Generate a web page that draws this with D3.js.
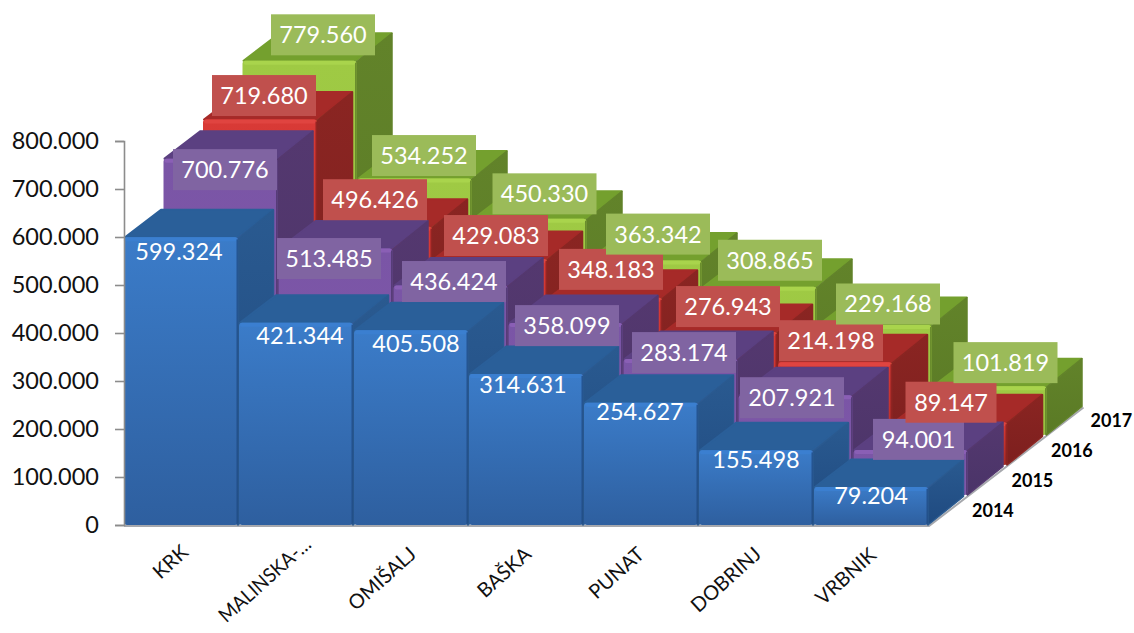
<!DOCTYPE html>
<html><head><meta charset="utf-8">
<script src="https://cdn.jsdelivr.net/npm/d3@7"></script>
<style>html,body{margin:0;background:#fff}svg{display:block}text{font-family:Lato,"Open Sans",sans-serif}</style>
</head><body><div id="c"></div>
<script>
const categories=["KRK","MALINSKA-…","OMIŠALJ","BAŠKA","PUNAT","DOBRINJ","VRBNIK"];
const years=["2014","2015","2016","2017"];
const values2014=[599324,421344,405508,314631,254627,155498,79204];
const values2015=[700776,513485,436424,358099,283174,207921,94001];
const values2016=[719680,496426,429083,348183,276943,214198,89147];
const values2017=[779560,534252,450330,363342,308865,229168,101819];
const yTicks=[0,100000,200000,300000,400000,500000,600000,700000,800000];
const allValues=[values2014,values2015,values2016,values2017];
// label offsets from each bar's front-top-centre
const labelDX=[[-2,4,5,-3,-1,0,0],[4.5,-6.5,3.5,1.5,3.5,-3.5,8],[4,0,6,6,8,-4,1],[23.5,9.5,15,13.5,10.5,13.5,16]];
const labelDY=[[14,13,13,11,9,9,9],[11,10,-4,2.5,-6.5,2.5,-10.5],[-24,-27,-23.5,-28.5,-25.5,-21.5,-20],[-26,-23,-25,-26.5,-26.5,-21,-23.5]];
const catNudgeX=[2,10,0,0,-2,0,0];
const catNudgeY=[-2,-10,0,0,0,0,1];
const themes=[
 {f0:"#3b7cc9",f1:"#2e5f9f",top:"#2a5f99",s0:"#2a5a90",s1:"#1f4a80",hi:"#3b7fd0",lab:null},
 {f0:"#7a55a6",f1:"#8158aa",top:"#5b4081",s0:"#54386f",s1:"#4a3468",hi:"#8a5fb5",lab:"#8064a2"},
 {f0:"#d93a36",f1:"#a82b27",top:"#a62a28",s0:"#8a2522",s1:"#7d1f1e",hi:"#e04440",lab:"#c0504d"},
 {f0:"#9fca44",f1:"#97c040",top:"#74a02e",s0:"#62832a",s1:"#5a7a25",hi:"#a9d44c",lab:"#9bbb59"}];
const W=1134,H=633;
const svg=d3.select("#c").append("svg").attr("width",W).attr("height",H);
const x=d3.scaleBand().domain(categories).range([124,929]);
const y=d3.scaleLinear().domain([0,800000]).range([525,141]);
const depthX=d3.scaleLinear().domain([0,1]).range([0,39.5]);
const depthY=d3.scaleLinear().domain([0,1]).range([0,-30]);
const barDX=36,barDY=-28.5,barW=x.bandwidth()-1;
const defs=svg.append("defs");
themes.forEach((t,i)=>{
 const g=defs.append("linearGradient").attr("id","f"+i).attr("x1",0).attr("y1",0).attr("x2",0).attr("y2",1);
 g.append("stop").attr("offset",0).attr("stop-color",t.f0);
 g.append("stop").attr("offset",1).attr("stop-color",t.f1);
 const s=defs.append("linearGradient").attr("id","s"+i).attr("x1",0).attr("y1",0).attr("x2",0).attr("y2",1);
 s.append("stop").attr("offset",0).attr("stop-color",t.s0);
 s.append("stop").attr("offset",1).attr("stop-color",t.s1);
});
// floor edge
const fl=svg.append("g");
fl.append("path").attr("fill","none").attr("stroke","#a6a8ad").attr("stroke-width",2)
 .attr("d",d3.line()([[x.range()[0],y(0)+1],[x.range()[1],y(0)+1],[x.range()[1]+depthX(3)+barDX,y(0)+depthY(3)+barDY+1]]));
const line=d3.line();
for(let s=3;s>=0;s--){
 const t=themes[s],g=svg.append("g").attr("class","series-"+years[s]);
 const ox=depthX(s),oy=depthY(s);
 const bars=g.selectAll("g").data(allValues[s].map((v,i)=>({v,c:categories[i]}))).join("g");
 bars.each(function(d){
  const b=d3.select(this),L=x(d.c)+ox,R=L+barW,T=y(d.v)+oy,B=y(0)+oy;
  b.append("path").attr("fill",t.top).attr("stroke",t.top).attr("stroke-width",2).attr("stroke-linejoin","round")
   .attr("d",line([[L+1,T],[L+barDX+1,T+barDY+1],[R+barDX-1,T+barDY+1],[R-1,T]])+"Z");
  b.append("path").attr("fill",`url(#s${s})`).attr("stroke",t.s0).attr("stroke-width",1.5).attr("stroke-linejoin","round")
   .attr("d",line([[R,T+1],[R+barDX-.5,T+barDY+1],[R+barDX-.5,B+barDY],[R,B]])+"Z");
  b.append("rect").attr("x",L).attr("y",T).attr("width",barW).attr("height",B-T).attr("rx",3).attr("fill",`url(#f${s})`);
  b.append("rect").attr("x",L+1).attr("y",T).attr("width",barW-2).attr("height",4).attr("rx",2).attr("fill",t.hi);
  b.append("rect").attr("x",R-1.5).attr("y",T+2).attr("width",1.5).attr("height",B-T-2).attr("fill",t.s1).attr("opacity",.75);
 });
}
// y axis
const ax=svg.append("g").attr("transform","translate(124,0)").call(
 d3.axisLeft(y).tickValues(yTicks).tickSize(9).tickPadding(16)
 .tickFormat(v=>v===0?"0":d3.format(",")(v).replace(/,/g,".")));
ax.selectAll("path,line").attr("stroke","#8c8c8c").attr("stroke-width",1.6);
ax.selectAll("text").attr("font-size",23.5).attr("fill","#111").attr("font-family","Lato");
// category labels
svg.append("g").selectAll("text").data(categories).join("text")
 .attr("text-anchor","end").attr("font-size",20).attr("fill","#111")
 .attr("transform",(d,i)=>`translate(${x(d)+x.bandwidth()/2+6+catNudgeX[i]},${556+catNudgeY[i]}) rotate(-42)`)
 .each(function(d){ if(d.length>8) d3.select(this).attr("textLength",116).attr("lengthAdjust","spacingAndGlyphs"); })
 .text(d=>d);
// depth labels
svg.append("g").selectAll("text").data(years).join("text")
 .attr("x",(d,i)=>972+depthX(i))
 .attr("y",(d,i)=>y(0)-8+depthY(i))
 .attr("font-size",18).attr("font-weight",700).attr("fill","#000").text(d=>d);
// data labels
const fmt=v=>d3.format(",")(v).replace(/,/g,".");
const lh=41;
for(let s=0;s<4;s++){
 const t=themes[s],g=svg.append("g").attr("class","labels-"+years[s]);
 allValues[s].forEach((v,i)=>{
  const cx=x(categories[i])+barW/2+depthX(s)+labelDX[s][i];
  const cy=y(v)+depthY(s)+labelDY[s][i];
  const lw=13*fmt(v).length+13;
  if(t.lab)g.append("rect").attr("x",cx-lw/2).attr("y",cy-lh/2).attr("width",lw).attr("height",lh).attr("fill",t.lab);
  g.append("text").attr("x",cx).attr("y",cy).attr("dy","0.36em").attr("text-anchor","middle")
   .attr("font-size",23.5).attr("fill","#fff").text(fmt(v));
 });
}
</script></body></html>
